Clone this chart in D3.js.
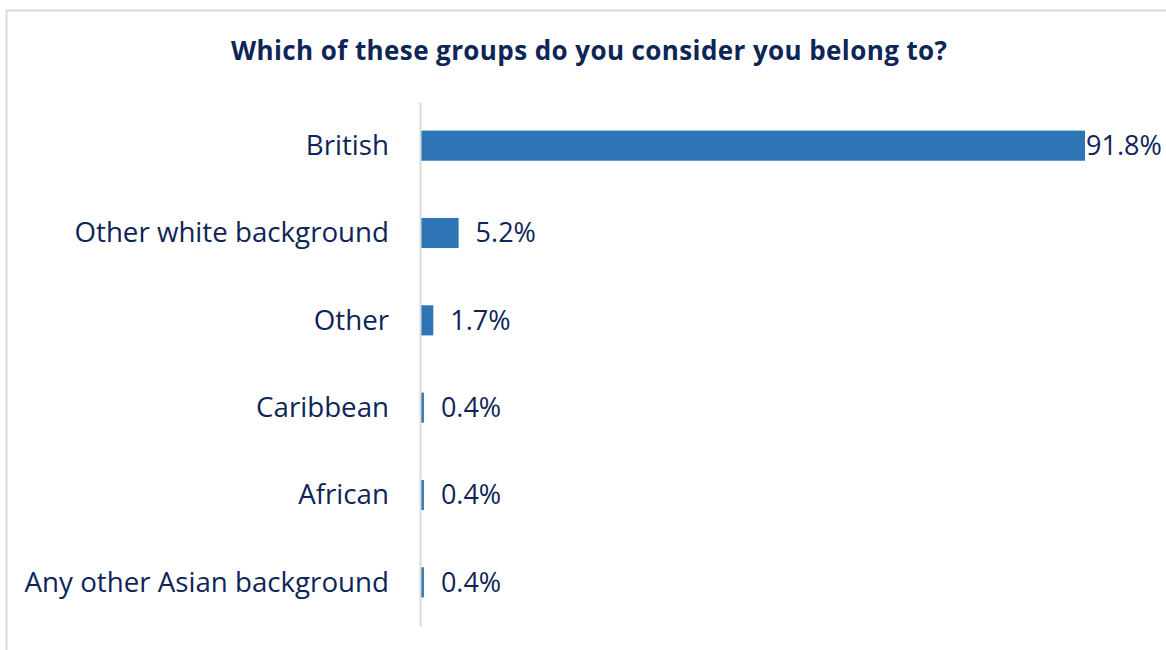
<!DOCTYPE html>
<html>
<head>
<meta charset="utf-8">
<script src="https://cdn.jsdelivr.net/npm/d3@7"></script>
<style>
    html, body { margin: 0; padding: 0; background: #fff; }
    svg { display: block; }
</style>
</head>
<body>
<svg id="chart" width="1166" height="650"></svg>
<script>
// data
var categories = ['British', 'Other white background', 'Other', 'Caribbean', 'African', 'Any other Asian background'];
var values = [91.8, 5.2, 1.7, 0.4, 0.4, 0.4];
var title = 'Which of these groups do you consider you belong to?';

var width = 1166, height = 650;
var margin = {top: 102, right: 81, bottom: 24, left: 421};
var navy = '#0e2557';
var barColor = '#2e75b6';
var font = '"Open Sans", sans-serif';

var svg = d3.select('#chart');

// frame
svg.append('rect')
    .attr('x', 6.5).attr('y', 10.5)
    .attr('width', width + 10).attr('height', height + 10)
    .attr('fill', '#fff')
    .attr('stroke', '#d9d9d9')
    .attr('stroke-width', 2);

svg.append('text')
    .attr('x', 589).attr('y', 60)
    .attr('text-anchor', 'middle')
    .attr('font-family', font)
    .attr('font-weight', 'bold')
    .attr('font-size', 26)
    .attr('textLength', 716)
    .attr('fill', navy)
    .text(title);

var x = d3.scaleLinear()
    .domain([0, 91.8])
    .range([margin.left, 1085]);

var y = d3.scaleBand()
    .domain(categories)
    .range([margin.top, height - margin.bottom])
    .paddingInner(0.655)
    .paddingOuter(0.3275);

var g = svg.append('g');

g.selectAll('rect.bar')
    .data(values)
    .enter().append('rect')
    .attr('class', 'bar')
    .attr('x', x(0))
    .attr('y', function (d, i) { return y(categories[i]); })
    .attr('width', function (d) { return x(d) - x(0); })
    .attr('height', y.bandwidth())
    .attr('fill', barColor);

// value labels
g.selectAll('text.val')
    .data(values)
    .enter().append('text')
    .attr('class', 'val')
    .attr('x', function (d) { return x(d) + (d > 50 ? 1 : 17); })
    .attr('y', function (d, i) { return y(categories[i]) + y.bandwidth() / 2; })
    .attr('dy', '0.34em')
    .attr('font-family', font)
    .attr('font-size', 27)
    .attr('fill', navy)
    .text(function (d) { return d.toFixed(1) + '%'; });

// category axis
var axis = svg.append('g')
    .attr('transform', 'translate(' + (margin.left - 1) + ',0)')
    .call(d3.axisLeft(y).tickSize(0).tickPadding(31));

axis.select('.domain')
    .attr('stroke', '#d9d9d9')
    .attr('stroke-width', 2);

axis.selectAll('text')
    .attr('dy', '0.34em')
    .attr('font-family', font)
    .attr('font-size', 27.7)
    .attr('fill', navy);
</script>
</body>
</html>
